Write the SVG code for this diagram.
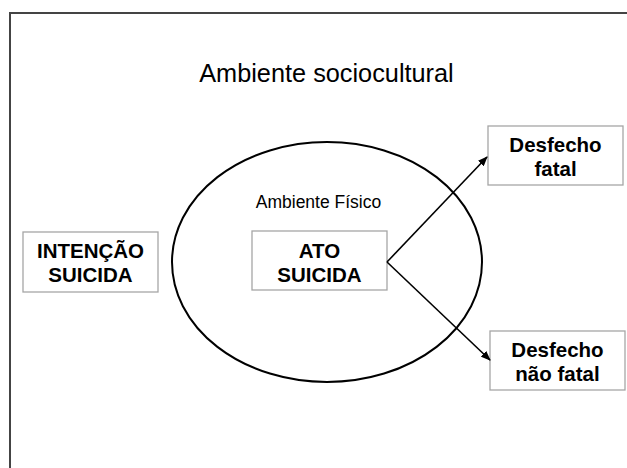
<svg xmlns="http://www.w3.org/2000/svg" width="627" height="468" viewBox="0 0 627 468">
<style>
.frame{fill:none;stroke:#444;stroke-width:2}
.box{fill:#fff;stroke:#a6a6a6;stroke-width:1.3}
.lbl{font-family:"Liberation Sans",Arial,sans-serif;font-weight:bold;font-size:20.5px;fill:#000;text-anchor:middle}
.reg{font-family:"Liberation Sans",Arial,sans-serif;fill:#000;text-anchor:middle}
.conn{fill:none;stroke:#000;stroke-width:1.6}
</style>
<defs>
<marker id="ah" markerWidth="10" markerHeight="8" refX="9" refY="4" orient="auto" markerUnits="userSpaceOnUse">
<path d="M0,0 L10,4 L0,8 Z" fill="#000"/>
</marker>
</defs>
<rect width="627" height="468" fill="#fff"/>
<g id="frame">
<path class="frame" d="M10,468 V13 H627"/>
<text class="reg" x="326.5" y="82" font-size="25.3">Ambiente sociocultural</text>
</g>
<g id="ambiente-fisico">
<ellipse cx="327" cy="262" rx="155" ry="120" fill="none" stroke="#000" stroke-width="2"/>
<text class="reg" x="318.5" y="208" font-size="17.5">Ambiente Físico</text>
</g>
<g id="intencao">
<rect class="box" x="23" y="232" width="135" height="60"/>
<text class="lbl" x="90.5" y="258">INTENÇÃO</text>
<text class="lbl" x="90.5" y="282">SUICIDA</text>
</g>
<g id="ato">
<rect class="box" x="252" y="231" width="135" height="59"/>
<text class="lbl" x="319.5" y="258">ATO</text>
<text class="lbl" x="319.5" y="282">SUICIDA</text>
</g>
<g id="fatal">
<rect class="box" x="488" y="126" width="135" height="59"/>
<text class="lbl" x="555.5" y="152">Desfecho</text>
<text class="lbl" x="555.5" y="176">fatal</text>
</g>
<g id="naofatal">
<rect class="box" x="490" y="331" width="135" height="59"/>
<text class="lbl" x="557.5" y="357">Desfecho</text>
<text class="lbl" x="557.5" y="381">não fatal</text>
</g>
<g id="connectors">
<line class="conn" x1="387" y1="262" x2="487" y2="157" marker-end="url(#ah)"/>
<line class="conn" x1="387" y1="262" x2="490" y2="360" marker-end="url(#ah)"/>
</g>
</svg>
